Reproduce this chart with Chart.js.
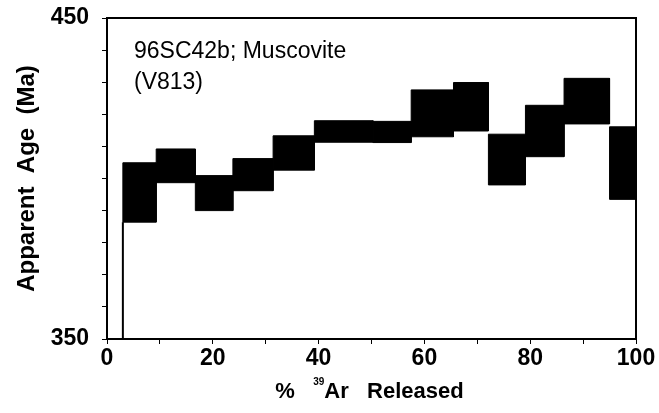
<!DOCTYPE html>
<html>
<head>
<meta charset="utf-8">
<script src="https://cdn.jsdelivr.net/npm/chart.js@4.4.1/dist/chart.umd.min.js"></script>
<style>
  html, body { margin: 0; padding: 0; background: #fff; }
  #wrap { width: 659px; height: 413px; }
</style>
</head>
<body>
<div id="wrap"><canvas id="spectrum"></canvas></div>
<script>
// step heating spectrum, cumulative % 39Ar released vs apparent age (Ma)
const pctStart = [3.0, 9.3, 16.7, 23.8, 31.4, 39.2, 50.3, 57.5, 65.5, 72.1, 79.1, 86.4, 95.0];
const pctEnd   = [9.3, 16.7, 23.8, 31.4, 39.2, 50.3, 57.5, 65.5, 72.1, 79.1, 86.4, 95.0, 100];
const ageLow   = [386.4, 398.7, 390.0, 396.2, 402.6, 411.3, 411.2, 413.0, 414.8, 398.0, 406.8, 417.0, 393.5];
const ageHigh  = [404.9, 409.2, 400.9, 406.2, 413.3, 418.0, 417.8, 427.6, 429.9, 413.8, 422.8, 431.2, 416.1];
const xTickLabels = [0, 20, 40, 60, 80, 100];
const yTickLabels = [350, 450];
const sampleName = '96SC42b; Muscovite';
const sampleRef = '(V813)';

const sans = '"Liberation Sans", Arial, sans-serif';

const datasets = pctStart.map((x0, i) => {
  const x1 = pctEnd[i];
  return {
    data: [
      {x: x0, y: ageLow[i]}, {x: x0, y: ageHigh[i]},
      {x: x1, y: ageHigh[i]}, {x: x1, y: ageLow[i]}, {x: x0, y: ageLow[i]}
    ],
    showLine: true,
    fill: 'shape',
    backgroundColor: '#000',
    borderColor: '#000',
    borderWidth: 1,
    pointRadius: 0,
    tension: 0
  };
});

// first step drops down to the axis
datasets.push({
  data: [{x: pctStart[0], y: 350}, {x: pctStart[0], y: ageLow[0]}],
  showLine: true,
  fill: false,
  borderColor: '#000',
  borderWidth: 2,
  pointRadius: 0
});

const frameAndText = {
  id: 'frameAndText',
  afterDraw(chart) {
    const {ctx, chartArea: a} = chart;
    ctx.save();
    ctx.strokeStyle = '#000';
    ctx.lineWidth = 2;
    ctx.strokeRect(a.left, a.top, a.right - a.left, a.bottom - a.top);

    ctx.fillStyle = '#000';
    ctx.textBaseline = 'alphabetic';
    ctx.textAlign = 'left';
    ctx.font = '23px ' + sans;
    ctx.fillText(sampleName, a.left + 27, 58);
    ctx.fillText(sampleRef, a.left + 27, 89);

    // x axis title with superscript mass number
    const big = 'bold 22px ' + sans;
    const small = 'bold 10px ' + sans;
    const parts = [['%   ', big, 0], ['39', small, -13], ['Ar   Released', big, 0]];
    let total = 0;
    parts.forEach(p => { ctx.font = p[1]; total += ctx.measureText(p[0]).width; });
    let x = (a.left + a.right) / 2 - total / 2 - 2;
    parts.forEach(p => {
      ctx.font = p[1];
      ctx.fillText(p[0], x, 398 + p[2]);
      x += ctx.measureText(p[0]).width;
    });
    ctx.restore();
  }
};

new Chart(document.getElementById('spectrum'), {
  type: 'scatter',
  data: {datasets},
  options: {
    responsive: true,
    maintainAspectRatio: false,
    animation: false,
    layout: {padding: {top: 18, right: 23, left: 0, bottom: 0}},
    plugins: {legend: {display: false}, tooltip: {enabled: false}},
    scales: {
      x: {
        type: 'linear', min: 0, max: 100,
        afterFit(s) { s.height = 74; s.paddingLeft = 0; s.paddingRight = 0; },
        ticks: {
          stepSize: 10, padding: 1, color: '#000', maxRotation: 0,
          font: {family: sans, size: 23, weight: 'bold'},
          callback: v => xTickLabels.includes(v) ? String(v) : ''
        },
        grid: {drawOnChartArea: false, tickLength: 5, color: '#000', lineWidth: 1},
        border: {color: '#000', width: 2}
      },
      y: {
        type: 'linear', min: 350, max: 450,
        afterFit(s) { s.width = 107; s.paddingTop = 0; s.paddingBottom = 0; },
        ticks: {
          stepSize: 10, padding: 13, color: '#000',
          font: {family: sans, size: 23, weight: 'bold'},
          callback: v => yTickLabels.includes(v) ? String(v) : ''
        },
        grid: {drawOnChartArea: false, tickLength: 5, color: '#000', lineWidth: 1},
        border: {color: '#000', width: 2},
        title: {
          display: true, text: 'Apparent  Age  (Ma)', color: '#000',
          font: {family: sans, size: 24, weight: 'bold'},
          padding: {top: 13, bottom: 0}
        }
      }
    }
  },
  plugins: [frameAndText]
});
</script>
</body>
</html>
